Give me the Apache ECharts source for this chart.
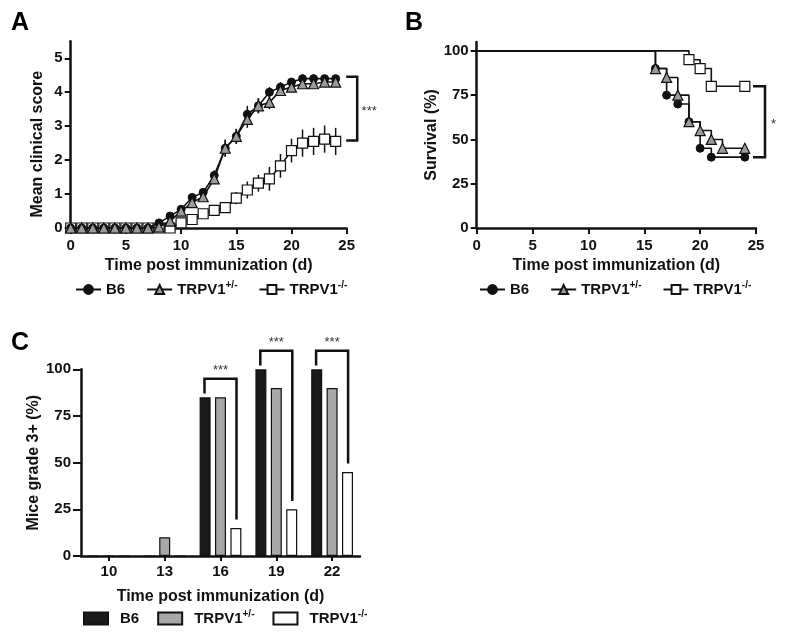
<!DOCTYPE html>
<html><head><meta charset="utf-8">
<script src="https://cdn.jsdelivr.net/npm/echarts@6/dist/echarts.min.js"></script>
<style>html,body{margin:0;padding:0;background:#fff}#c{width:788px;height:636px}</style>
</head><body><div id="c"></div>
<script>
// ---- Panel A: mean clinical score ----
const days = [0,1,2,3,4,5,6,7,8,9,10,11,12,13,14,15,16,17,18,19,20,21,22,23,24];
const scoreB6  = [0,0,0,0,0,0,0,0,0.15,0.35,0.55,0.9,1.05,1.55,2.35,2.7,3.35,3.6,4.0,4.15,4.3,4.4,4.4,4.4,4.4];
const semB6    = [0,0,0,0,0,0,0,0,0.05,0.08,0.1,0.12,0.12,0.15,0.25,0.22,0.25,0.22,0.15,0.15,0.12,0.12,0.12,0.1,0.1];
const scoreHet = [0,0,0,0,0,0,0,0,0.03,0.2,0.5,0.75,0.92,1.45,2.35,2.7,3.2,3.6,3.7,4.05,4.15,4.25,4.25,4.3,4.3];
const semHet   = [0,0,0,0,0,0,0,0,0.03,0.08,0.1,0.12,0.12,0.15,0.25,0.22,0.25,0.22,0.2,0.15,0.12,0.12,0.12,0.1,0.1];
const scoreKO  = [0,0,0,0,0,0,0,0,0,0,0.15,0.25,0.42,0.52,0.6,0.88,1.12,1.32,1.45,1.83,2.28,2.5,2.55,2.62,2.55];
const semKO    = [0,0,0,0,0,0,0,0,0,0,0.08,0.1,0.12,0.12,0.12,0.18,0.25,0.25,0.35,0.35,0.35,0.4,0.4,0.4,0.4];
const scoreTicks = [0,1,2,3,4,5];

// ---- Panel B: survival ----
const survDaysB6  = [0,16,17,18,19,20,21,24];
const survB6      = [100,90,75,70,60,45,40,40];
const survDaysHet = [0,16,17,18,19,20,21,22,24];
const survHet     = [100,90,85,75,60,55,50,45,45];
const survDaysKO  = [0,19,20,21,24];
const survKO      = [100,95,90,80,80];
const survTicks   = [0,25,50,75,100];

// ---- Panel C: mice grade 3+ ----
const gradeDays = ['10','13','16','19','22'];
const gradeB6  = [0,0,85,100,100];
const gradeHet = [0,10,85,90,90];
const gradeKO  = [0,0,15,25,45];

const FONT = "'Liberation Sans', Arial, sans-serif";
const INK = '#111';
const labelNames = {B6:'B6', Het:'TRPV1{sup|+/-}', KO:'TRPV1{sup|-/-}'};
const legendText = {
  fontFamily: FONT, fontSize: 15, fontWeight: 'bold', color: INK, lineHeight: 19,
  rich: { sup: { fontFamily: FONT, fontSize: 10, fontWeight: 'bold', color: INK, verticalAlign: 'top', lineHeight: 10 } }
};
const axisCommon = {
  axisLine: { show: true, onZero: false, lineStyle: { color: INK, width: 2.5 } },
  axisTick: { show: true, length: 6, lineStyle: { color: INK, width: 2 } },
  splitLine: { show: false },
  axisLabel: { fontFamily: FONT, fontSize: 15, fontWeight: 'bold', color: INK },
  nameTextStyle: { fontFamily: FONT, fontSize: 16, fontWeight: 'bold', color: INK },
  nameLocation: 'middle'
};
function ax(extra) {
  const o = JSON.parse(JSON.stringify(axisCommon));
  for (const k in extra) {
    if (typeof extra[k] === 'object' && !Array.isArray(extra[k]) && o[k]) Object.assign(o[k], extra[k]);
    else o[k] = extra[k];
  }
  return o;
}

function errSeries(scores, sems, z) {
  return {
    type: 'custom', xAxisIndex: 0, yAxisIndex: 0, z, silent: true,
    data: days.map((d, i) => [d, scores[i] - sems[i], scores[i] + sems[i]]),
    renderItem: (params, api) => {
      if (api.value(1) === api.value(2)) return null;
      const p1 = api.coord([api.value(0), api.value(1)]);
      const p2 = api.coord([api.value(0), api.value(2)]);
      return { type: 'line', shape: { x1: p1[0], y1: p1[1], x2: p2[0], y2: p2[1] }, style: { stroke: INK, lineWidth: 1.5 } };
    }
  };
}
function survData(ds, vs) {
  return ds.map((d, i) => i === 0 ? { value: [d, vs[i]], symbol: 'none' } : [d, vs[i]]);
}
const styB6  = { symbol: 'circle', symbolSize: 8, itemStyle: { color: INK, borderColor: INK, borderWidth: 1 } };
const styHet = { symbol: 'triangle', symbolSize: 10, itemStyle: { color: '#9b9b9b', borderColor: INK, borderWidth: 1.2 } };
const styKO  = { symbol: 'rect', symbolSize: 10, itemStyle: { color: '#fff', borderColor: INK, borderWidth: 1.2 } };
const lineSty = { color: INK, width: 1.6 };

const chart = echarts.init(document.getElementById('c'), null, { renderer: 'canvas' });
const option = {
  animation: false,
  backgroundColor: '#fff',
  textStyle: { fontFamily: FONT },
  grid: [
    { left: 70.7, top: 41.3, width: 276, height: 186.7 },
    { left: 476.7, top: 42, width: 279.3, height: 186 },
    { left: 81, top: 369.3, width: 279, height: 186.7 }
  ],
  xAxis: [
    ax({ gridIndex: 0, type: 'value', min: 0, max: 25, interval: 5, name: 'Time post immunization (d)', nameGap: 30, axisLabel: { margin: 10 } }),
    ax({ gridIndex: 1, type: 'value', min: 0, max: 25, interval: 5, name: 'Time post immunization (d)', nameGap: 30, axisLabel: { margin: 10 } }),
    ax({ gridIndex: 2, type: 'category', data: gradeDays, name: 'Time post immunization (d)', nameGap: 33,
         axisTick: { alignWithLabel: true, length: 5 }, axisLabel: { margin: 8 } })
  ],
  yAxis: [
    ax({ gridIndex: 0, type: 'value', min: 0, max: 5.5, name: 'Mean clinical score', nameGap: 25,
         axisTick: { customValues: scoreTicks }, axisLabel: { customValues: scoreTicks, margin: 8 },
         nameTextStyle: { padding: [0, 19, 0, 0] } }),
    ax({ gridIndex: 1, type: 'value', min: 0, max: 105, name: 'Survival (%)', nameGap: 36,
         axisTick: { customValues: survTicks }, axisLabel: { customValues: survTicks, margin: 8 } }),
    ax({ gridIndex: 2, type: 'value', min: 0, max: 100, interval: 25, name: 'Mice grade 3+ (%)', nameGap: 35,
         axisTick: { length: 8 }, axisLabel: { margin: 10 } })
  ],
  legend: [
    { left: 70, top: 275, itemWidth: 25, itemHeight: 11, itemGap: 21, selectedMode: false,
      data: ['A_B6', 'A_Het', 'A_KO'], formatter: n => labelNames[n.split('_')[1]], textStyle: legendText },
    { left: 474, top: 275, itemWidth: 25, itemHeight: 11, itemGap: 21, selectedMode: false,
      data: ['B_B6', 'B_Het', 'B_KO'], formatter: n => labelNames[n.split('_')[1]], textStyle: legendText },
    { left: 78, top: 604, itemWidth: 24, itemHeight: 12, itemGap: 18, icon: 'rect', selectedMode: false,
      data: ['C_B6', 'C_Het', 'C_KO'], formatter: n => labelNames[n.split('_')[1]],
      textStyle: Object.assign({}, legendText, { padding: [0, 0, 0, 7] }) }
  ],
  series: [
    errSeries(scoreKO, semKO, 1), errSeries(scoreB6, semB6, 3), errSeries(scoreHet, semHet, 5),
    Object.assign({ type: 'line', name: 'A_KO', xAxisIndex: 0, yAxisIndex: 0, z: 2, lineStyle: lineSty,
      data: days.map((d, i) => [d, scoreKO[i]]) }, styKO),
    Object.assign({ type: 'line', name: 'A_B6', xAxisIndex: 0, yAxisIndex: 0, z: 4, lineStyle: lineSty,
      data: days.map((d, i) => [d, scoreB6[i]]) }, styB6),
    Object.assign({ type: 'line', name: 'A_Het', xAxisIndex: 0, yAxisIndex: 0, z: 6, lineStyle: lineSty,
      data: days.map((d, i) => [d, scoreHet[i]]) }, styHet),
    Object.assign({ type: 'line', name: 'B_B6', xAxisIndex: 1, yAxisIndex: 1, z: 3, step: 'end', lineStyle: lineSty,
      data: survData(survDaysB6, survB6) }, styB6),
    Object.assign({ type: 'line', name: 'B_Het', xAxisIndex: 1, yAxisIndex: 1, z: 4, step: 'end', lineStyle: lineSty,
      data: survData(survDaysHet, survHet) }, styHet),
    Object.assign({ type: 'line', name: 'B_KO', xAxisIndex: 1, yAxisIndex: 1, z: 5, step: 'end', lineStyle: lineSty,
      data: survData(survDaysKO, survKO) }, styKO),
    { type: 'bar', name: 'C_B6', xAxisIndex: 2, yAxisIndex: 2, data: gradeB6, barWidth: 11, barGap: '40%',
      itemStyle: { color: '#1a1a1a', borderColor: INK, borderWidth: 1.2 } },
    { type: 'bar', name: 'C_Het', xAxisIndex: 2, yAxisIndex: 2, data: gradeHet, barWidth: 11, barGap: '40%',
      itemStyle: { color: '#a8a8a8', borderColor: INK, borderWidth: 1.2 } },
    { type: 'bar', name: 'C_KO', xAxisIndex: 2, yAxisIndex: 2, data: gradeKO, barWidth: 11, barGap: '40%',
      itemStyle: { color: '#fff', borderColor: INK, borderWidth: 1.2 } }
  ]
};
chart.setOption(option);

// ---- annotations (panel letters, significance brackets) ----
const px = (g, v) => chart.convertToPixel({ gridIndex: g }, v);
const pc = (i, v) => chart.convertToPixel({ xAxisIndex: 2, yAxisIndex: 2 }, [i, v]);
const bracketStyle = { stroke: INK, lineWidth: 2.5, fill: null };
const starStyle = (x, y) => ({ type: 'text', x, y, style: { text: '', fontFamily: FONT, fontSize: 13, fill: '#333', align: 'center', verticalAlign: 'middle' } });
const g = [];
const letter = (t, x, y) => g.push({ type: 'text', x, y, style: { text: t, fontFamily: FONT, fontSize: 25, fontWeight: 'bold', fill: '#000' } });
letter('A', 11, 11); letter('B', 405, 11); letter('C', 11, 331);

// A bracket
{
  const xr = px(0, [25, 0])[0] + 10.5;
  const yt = px(0, [0, scoreB6[24]])[1] - 2, yb = px(0, [0, scoreKO[24]])[1] - 1;
  g.push({ type: 'polyline', shape: { points: [[xr - 11, yt], [xr, yt], [xr, yb], [xr - 11, yb]] }, style: bracketStyle });
  const s = starStyle(xr + 12, (yt + yb) / 2 + 3); s.style.text = '***'; g.push(s);
}
// B bracket
{
  const xr = px(1, [25, 0])[0] + 9;
  const yt = px(1, [0, survKO[survKO.length - 1]])[1], yb = px(1, [0, survB6[survB6.length - 1]])[1];
  g.push({ type: 'polyline', shape: { points: [[xr - 12, yt], [xr, yt], [xr, yb], [xr - 12, yb]] }, style: bracketStyle });
  const s = starStyle(xr + 8.5, (yt + yb) / 2 + 3); s.style.text = '*'; g.push(s);
}
// C brackets
[2, 3, 4].forEach(i => {
  const c = pc(i, 0)[0];
  const yTop = pc(i, gradeB6[i] + 10)[1];
  const yL = pc(i, gradeB6[i] + 2)[1];
  const yR = pc(i, gradeKO[i] + 4.5)[1];
  g.push({ type: 'polyline', shape: { points: [[c - 16, yL], [c - 16, yTop], [c + 16, yTop], [c + 16, yR]] }, style: bracketStyle });
  const s = starStyle(c, yTop - 11 + 3); s.style.text = '***'; g.push(s);
});
chart.setOption({ graphic: g });
</script>
</body></html>
